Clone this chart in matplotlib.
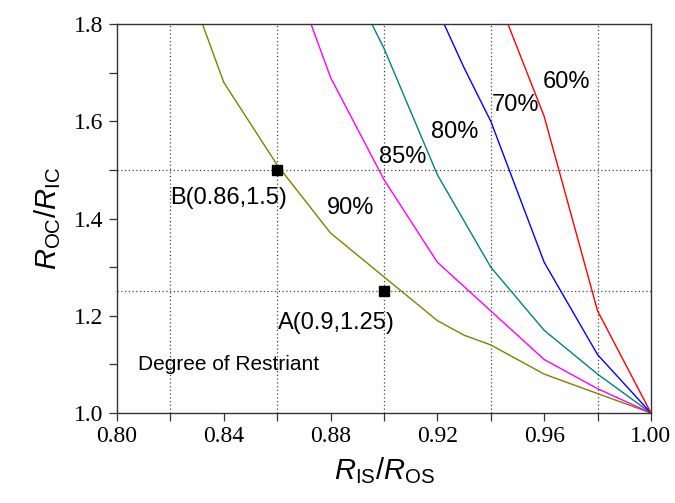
import matplotlib
matplotlib.use("Agg")
import matplotlib.pyplot as plt
from matplotlib import font_manager as fm
from matplotlib.ticker import MultipleLocator

names = sorted({f.name for f in fm.fontManager.ttflist})
serif_candidates = [n for n in names if 'Serif' in n or 'Times' in n or 'Tinos' in n]
serif = serif_candidates[0] if serif_candidates else 'DejaVu Serif'
for pref in ['Liberation Serif', 'Times New Roman', 'Tinos', 'Noto Serif', 'DejaVu Serif']:
    if pref in names:
        serif = pref
        break

plt.rcParams['mathtext.fontset'] = 'custom'
plt.rcParams['mathtext.rm'] = 'Liberation Sans'
plt.rcParams['mathtext.it'] = 'Liberation Sans:italic'

# Curves (degree of restraint)
x90 = [0.83, 0.84, 0.86, 0.88, 0.90, 0.92, 0.93, 0.94, 0.96, 0.98, 1.00]
y90 = [1.83, 1.68, 1.51, 1.37, 1.28, 1.19, 1.16, 1.14, 1.08, 1.04, 1.00]
x85 = [0.87, 0.88, 0.90, 0.92, 0.94, 0.96, 0.98, 1.00]
y85 = [1.84, 1.69, 1.48, 1.31, 1.21, 1.11, 1.05, 1.00]
x80 = [0.89, 0.90, 0.92, 0.94, 0.96, 0.98, 1.00]
y80 = [1.86, 1.75, 1.49, 1.30, 1.17, 1.08, 1.00]
x70 = [0.92, 0.93, 0.94, 0.96, 0.98, 1.00]
y70 = [1.83, 1.71, 1.60, 1.31, 1.12, 1.00]
x60 = [0.94, 0.96, 0.98, 1.00]
y60 = [1.89, 1.61, 1.21, 1.00]

pts_x = [0.86, 0.90]
pts_y = [1.5, 1.25]
pt_labels = ["B(0.86,1.5)", "A(0.9,1.25)"]

grid_x = [0.82, 0.86, 0.90, 0.94, 0.98]
grid_y = [1.25, 1.5]

xticks = [0.80, 0.84, 0.88, 0.92, 0.96, 1.00]
xtick_labels = ["0.80", "0.84", "0.88", "0.92", "0.96", "1.00"]
yticks = [1.0, 1.2, 1.4, 1.6, 1.8]
ytick_labels = ["1.0", "1.2", "1.4", "1.6", "1.8"]

fig = plt.figure(figsize=(6.75, 5.03), dpi=100)
ax = fig.add_axes([0.1733, 0.1789, 0.7911, 0.7734])

for gx in grid_x:
    ax.axvline(gx, color='#444444', lw=0.9, ls=(0, (1, 2)), zorder=1)
for gy in grid_y:
    ax.axhline(gy, color='#444444', lw=0.9, ls=(0, (1, 2)), zorder=1)

ax.plot(x90, y90, color='#808000', lw=1.0, zorder=2)
ax.plot(x85, y85, color='#ff00ff', lw=1.0, zorder=2)
ax.plot(x80, y80, color='#008080', lw=1.0, zorder=2)
ax.plot(x70, y70, color='#0000ff', lw=1.0, zorder=2)
ax.plot(x60, y60, color='#ff0000', lw=1.0, zorder=2)

ax.plot(pts_x, pts_y, 's', color='black', ms=7, zorder=3, clip_on=False)

tf = dict(family='Liberation Sans', fontsize=17, color='black')
ax.text(0.9682, 1.681, "60%", ha='center', va='center', **tf)
ax.text(0.9491, 1.634, "70%", ha='center', va='center', **tf)
ax.text(0.9266, 1.578, "80%", ha='center', va='center', **tf)
ax.text(0.9071, 1.527, "85%", ha='center', va='center', **tf)
ax.text(0.8873, 1.422, "90%", ha='center', va='center', **tf)
ax.text(0.8200, 1.442, pt_labels[0], ha='left', va='center', **tf)
ax.text(0.8603, 1.185, pt_labels[1], ha='left', va='center', **tf)
ax.text(0.8080, 1.099, "Degree of Restriant", ha='left', va='center',
        family='Liberation Sans', fontsize=15, color='black')

ax.set_xlim(0.80, 1.00)
ax.set_ylim(1.0, 1.8)
ax.set_xticks(xticks)
ax.set_xticklabels(xtick_labels, fontfamily=serif, fontsize=17)
ax.set_yticks(yticks)
ax.set_yticklabels(ytick_labels, fontfamily=serif, fontsize=17)
ax.xaxis.set_minor_locator(MultipleLocator(0.02))
ax.yaxis.set_minor_locator(MultipleLocator(0.1))
ax.tick_params(which='both', direction='out', top=False, right=False,
               color='#333333')
ax.tick_params(which='major', length=6, width=0.9)
ax.tick_params(which='minor', length=6, width=0.9)
for sp in ax.spines.values():
    sp.set_linewidth(1.0)
    sp.set_color('#333333')

ax.set_xlabel(r'$\it{R}_{\rm IS}/\it{R}_{\rm OS}$', fontsize=21, labelpad=6)
ax.set_ylabel(r'$\it{R}_{\rm OC}/\it{R}_{\rm IC}$', fontsize=21, labelpad=8)

fig.savefig('out.png', dpi=100)
